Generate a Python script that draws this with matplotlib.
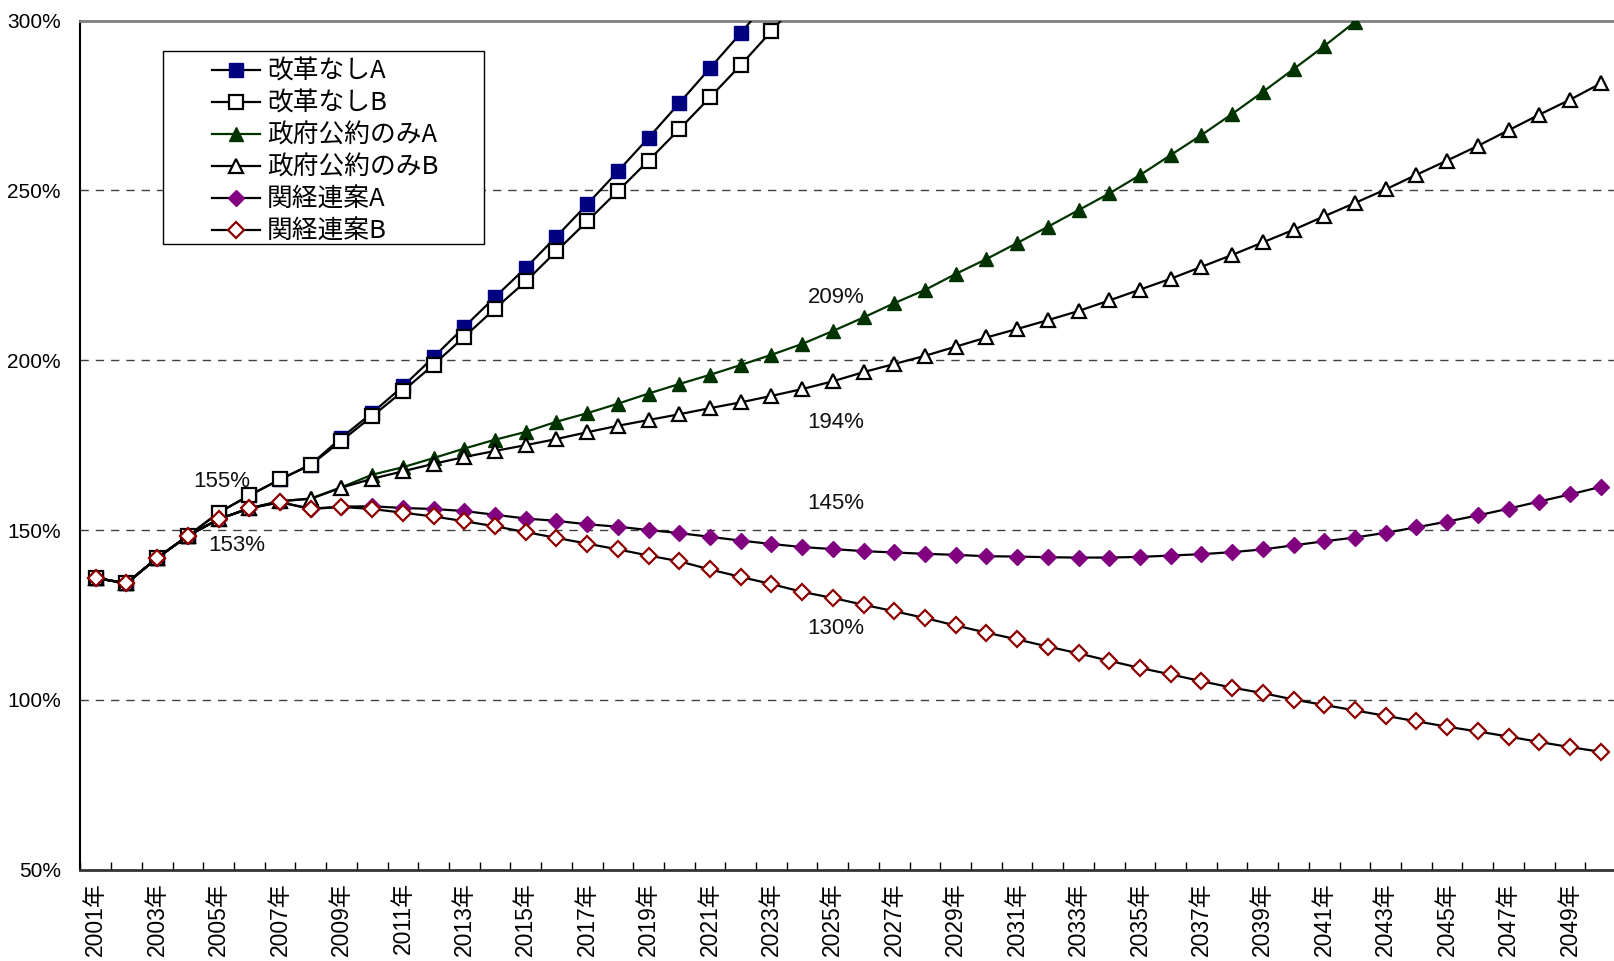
import numpy as np
import matplotlib
matplotlib.use("Agg")
import matplotlib.pyplot as plt
from matplotlib.patches import Rectangle
from matplotlib.lines import Line2D

nan = np.nan
years = list(range(2001, 2051))
xlabels = [f"{y}年" for y in years]

# 改革なしA
reform_none_a = [135.9, 134.3, 141.8, 148.3, 155.1, 160.2, 164.9, 169.3, 177.2, 184.5,
                 192.3, 200.9, 209.8, 218.6, 227.2, 236.4, 245.9, 255.6, 265.5, 275.7,
                 286.0, 296.3, 307.0] + [nan] * 27
# 改革なしB
reform_none_b = [135.9, 134.3, 141.8, 148.3, 155.1, 160.2, 164.9, 169.2, 176.3, 183.5,
                 190.9, 198.7, 206.9, 215.2, 223.2, 232.1, 240.9, 249.8, 258.8, 268.0,
                 277.4, 286.9, 296.9, 307.0] + [nan] * 26
# 政府公約のみA
gov_a = [135.9, 134.3, 141.8, 148.3, 153.2, 156.4, 158.5, 159.3, 162.6, 166.3,
         168.5, 171.2, 174.0, 176.6, 178.9, 181.9, 184.4, 187.2, 190.2, 193.0,
         195.7, 198.6, 201.6, 204.8, 208.6, 212.6, 216.8, 220.7, 225.4, 229.8,
         234.5, 239.3, 244.2, 249.1, 254.5, 260.4, 266.3, 272.5, 279.0, 285.7,
         292.5, 299.6, 307.0] + [nan] * 7
# 政府公約のみB
gov_b = [135.9, 134.3, 141.8, 148.3, 153.2, 156.4, 158.5, 159.2, 162.5, 165.1,
         167.3, 169.5, 171.5, 173.3, 175.0, 176.8, 178.8, 180.7, 182.4, 184.1,
         185.9, 187.6, 189.5, 191.5, 193.8, 196.5, 198.9, 201.3, 204.0, 206.7,
         209.2, 211.8, 214.5, 217.6, 220.8, 224.0, 227.5, 231.0, 234.7, 238.4,
         242.4, 246.3, 250.3, 254.6, 258.8, 263.1, 267.7, 272.3, 276.7, 281.5]
# 関経連案A
kankeiren_a = [135.9, 134.3, 141.8, 148.3, 153.2, 156.4, 158.2, 156.3, 156.9, 157.0,
               156.5, 156.2, 155.6, 154.5, 153.4, 152.7, 151.7, 151.0, 150.0, 149.1,
               148.0, 146.9, 145.9, 145.0, 144.4, 143.8, 143.4, 143.0, 142.7, 142.3,
               142.2, 142.0, 141.9, 141.9, 142.1, 142.5, 142.9, 143.5, 144.3, 145.5,
               146.7, 147.8, 149.2, 150.8, 152.5, 154.3, 156.3, 158.4, 160.5, 162.7]
# 関経連案B
kankeiren_b = [135.9, 134.3, 141.8, 148.3, 153.2, 156.4, 158.2, 156.2, 156.8, 156.2,
               155.1, 154.0, 152.6, 151.1, 149.4, 147.7, 146.0, 144.3, 142.5, 140.8,
               138.4, 136.2, 134.1, 131.8, 130.0, 128.0, 126.1, 124.1, 121.9, 119.8,
               117.8, 115.7, 113.7, 111.5, 109.4, 107.5, 105.5, 103.6, 102.0, 100.1,
               98.5, 96.9, 95.3, 93.7, 92.1, 90.7, 89.2, 87.6, 86.1, 84.7]

series_names = ["改革なしA", "改革なしB", "政府公約のみA", "政府公約のみB", "関経連案A", "関経連案B"]
y_ticks = [50, 100, 150, 200, 250, 300]

# annotations: (text, category index, value)
annotations = [("155%", 4.1, 164.3), ("153%", 4.6, 145.5), ("209%", 24.1, 218.6),
               ("194%", 24.1, 181.7), ("145%", 24.1, 157.8), ("130%", 24.1, 121.0)]

narrow = ["Liberation Sans Narrow", "Liberation Sans", "DejaVu Sans"]
jp = ["Noto Sans CJK JP", "DejaVu Sans"]
lat_jp = ["Liberation Sans", "Noto Sans CJK JP", "DejaVu Sans"]

styles = [
    dict(color="black", marker="s", mfc="#000080", mec="#000080", ms=10, mew=1.0, lw=1.6),
    dict(color="black", marker="s", mfc="white", mec="black", ms=9.5, mew=1.6, lw=1.6),
    dict(color="#003300", marker="^", mfc="#003300", mec="#003300", ms=10.5, mew=1.0, lw=1.6),
    dict(color="black", marker="^", mfc="white", mec="black", ms=10, mew=1.6, lw=1.6),
    dict(color="black", marker="D", mfc="#800080", mec="#800080", ms=8.5, mew=1.0, lw=1.6),
    dict(color="black", marker="D", mfc="white", mec="#8B0000", ms=8, mew=1.6, lw=1.6),
]
data = [reform_none_a, reform_none_b, gov_a, gov_b, kankeiren_a, kankeiren_b]

W, H = 1614, 961
fig = plt.figure(figsize=(W / 100, H / 100), dpi=100)
left, right = 80.4, 1616.0
top, bottom = 20.6, 869.7
ax = fig.add_axes([left / W, 1 - bottom / H, (right - left) / W, (bottom - top) / H])

x = np.arange(len(years))
for i, (vals, st) in enumerate(zip(data, styles)):
    ax.plot(x, np.array(vals, dtype=float), zorder=3 + i * 0.1, **st)

ax.set_xlim(-0.5, len(years) - 0.5)
ax.set_ylim(50, 300)

for yv in y_ticks[1:-1]:
    ax.axhline(yv, color="#404040", lw=1.0, ls=(0, (6, 5)), zorder=1)

ax.set_yticks(y_ticks)
ax.set_yticklabels([f"{v}%" for v in y_ticks], family=narrow, fontsize=15)
ax.tick_params(axis="y", length=0, pad=14)

ax.set_xticks(x[::2])
ax.set_xticklabels(xlabels[::2], rotation=90, family=lat_jp, fontsize=16.5)
ax.tick_params(axis="x", which="major", length=0, pad=9)
ax.set_xticks(np.arange(-0.5, len(years), 1.0), minor=True)
ax.tick_params(axis="x", which="minor", direction="in", length=6, width=1, color="black")

ax.spines["top"].set_color("#808080")
ax.spines["top"].set_linewidth(2)
ax.spines["right"].set_visible(False)
ax.spines["left"].set_color("black")
ax.spines["left"].set_linewidth(1.5)
ax.spines["bottom"].set_color("#333333")
ax.spines["bottom"].set_linewidth(2)

for txt, xi, yv in annotations:
    ax.text(xi, yv, txt, ha="center", va="center", family=narrow, fontsize=16, color="#111111", zorder=4)

# legend box
rect = Rectangle((163 / W, 1 - 244 / H), 321 / W, 193 / H, transform=fig.transFigure,
                 facecolor="white", edgecolor="black", lw=1.0, zorder=5)
ax.add_artist(rect)
handles = [Line2D([0], [0], **st) for st in styles]
leg = ax.legend(handles, series_names, loc="upper left", bbox_to_anchor=(212 / W, 1 - 59 / H),
                bbox_transform=fig.transFigure, frameon=False, borderpad=0, borderaxespad=0,
                handlelength=1.85, handletextpad=0.3, labelspacing=0.23,
                prop={"family": jp, "size": 18.5})
leg.set_zorder(6)

fig.savefig("out.png", dpi=100)
